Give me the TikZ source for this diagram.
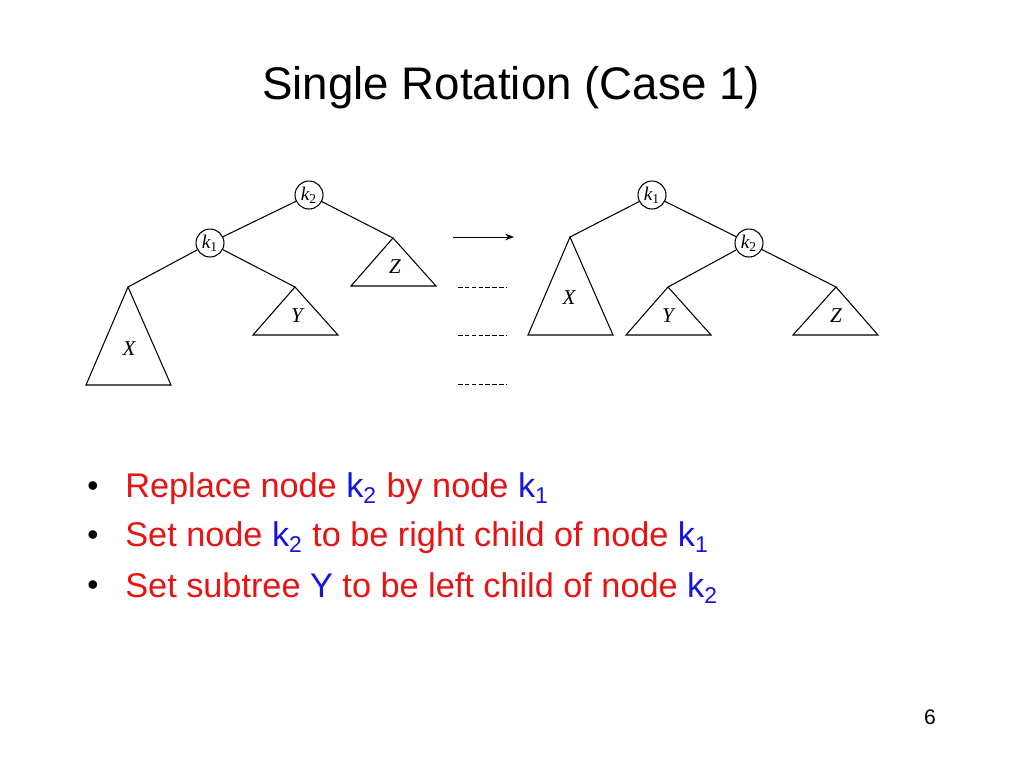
\documentclass[tikz,border=0pt]{standalone}
\usepackage{fontspec}
\setmainfont{Liberation Sans}
\newfontfamily\treefont{Liberation Serif}
\usetikzlibrary{arrows.meta}
\definecolor{bulletred}{RGB}{230,20,20}
\definecolor{keyblue}{RGB}{20,20,220}
\tikzset{
  keynode/.style={circle, draw, fill=white, inner sep=0pt, minimum size=0.56cm, font=\treefont\itshape\fontsize{11}{11}\selectfont},
  subtree/.style={draw, line width=0.6pt},
  treelabel/.style={font=\treefont\itshape\fontsize{12}{12}\selectfont},
  bullettext/.style={anchor=west, text=bulletred, font=\fontsize{19.5}{22}\selectfont},
}
\newcommand{\kk}[2]{\textcolor{keyblue}{#1$_{\mbox{\fontsize{13}{13}\selectfont #2}}$}}
\begin{document}
\begin{tikzpicture}[x=0.02cm, y=-0.02cm, line width=0.6pt]
  \useasboundingbox (0,0) rectangle (1024,768);
  % title
  \node (title) at (511,88) {\fontsize{26}{30}\selectfont Single Rotation (Case 1)};

  % left tree
  \coordinate (lZtop) at (393,238);
  \coordinate (lYtop) at (295,287);
  \coordinate (lXtop) at (128,287);
  \draw[subtree] (lZtop) -- (351,286) -- (436,286) -- cycle;
  \draw[subtree] (lYtop) -- (253,335) -- (338,335) -- cycle;
  \draw[subtree] (lXtop) -- (86,385) -- (171,385) -- cycle;
  \node[treelabel] (lZ) at (395,267) {Z};
  \node[treelabel] (lY) at (297,316) {Y};
  \node[treelabel] (lX) at (129,349) {X};
  \node[keynode] (lk2) at (309,195) {k\textsubscript{\upshape 2}};
  \node[keynode] (lk1) at (210,243) {k\textsubscript{\upshape 1}};
  \draw (lk2) -- (lk1);
  \draw (lk2) -- (lZtop);
  \draw (lk1) -- (lYtop);
  \draw (lk1) -- (lXtop);

  % arrow and dashes
  \coordinate (arrA) at (453,237);
  \coordinate (arrB) at (514,237);
  \draw[-{Stealth[length=5pt]}, line width=0.5pt] (arrA) -- (arrB);
  \foreach \yy in {287,335,384}
    \draw[dash pattern=on 2.6pt off 1.3pt, line width=0.5pt] (458,\yy) -- (507,\yy);

  % right tree
  \coordinate (rXtop) at (570,237);
  \coordinate (rYtop) at (668,287);
  \coordinate (rZtop) at (836,287);
  \draw[subtree] (rXtop) -- (528,335) -- (613,335) -- cycle;
  \draw[subtree] (rYtop) -- (626,335) -- (711,335) -- cycle;
  \draw[subtree] (rZtop) -- (793,335) -- (878,335) -- cycle;
  \node[treelabel] (rX) at (569,298) {X};
  \node[treelabel] (rY) at (668,316) {Y};
  \node[treelabel] (rZ) at (836,316) {Z};
  \node[keynode] (rk1) at (652,195) {k\textsubscript{\upshape 1}};
  \node[keynode] (rk2) at (749,243) {k\textsubscript{\upshape 2}};
  \draw (rk1) -- (rk2);
  \draw (rk1) -- (rXtop);
  \draw (rk2) -- (rYtop);
  \draw (rk2) -- (rZtop);

  % bullets
  \foreach \yy in {489,538,588}
    \node[font=\fontsize{18}{20}\selectfont] at (93,\yy) {\textbullet};
  \node[bullettext] (b1) at (119,489) {Replace node \kk{k}{2} by node \kk{k}{1}};
  \node[bullettext] (b2) at (119,538) {Set node \kk{k}{2} to be right child of node \kk{k}{1}};
  \node[bullettext] (b3) at (119,588) {Set subtree \textcolor{keyblue}{Y} to be left child of node \kk{k}{2}};

  \node (page) at (930,717) {\fontsize{12}{14}\selectfont 6};
\end{tikzpicture}
\end{document}
